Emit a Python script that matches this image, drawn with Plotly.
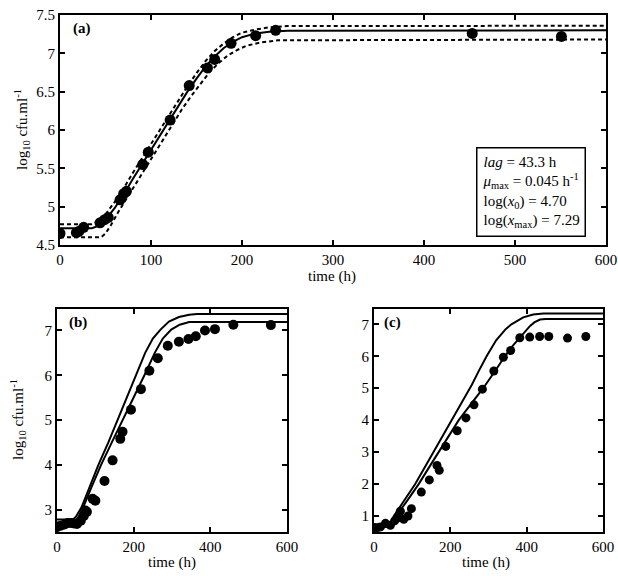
import plotly.graph_objects as go

FONT = "Liberation Serif"

# ---------------- Panel (a) ----------------
a_t = [0, 18, 21, 26, 44, 49, 53, 66, 70, 73, 91, 97, 121, 142, 162, 170, 188, 215, 237, 453, 551]
a_y = [4.65, 4.66, 4.68, 4.73, 4.79, 4.83, 4.86, 5.09, 5.17, 5.20, 5.55, 5.71, 6.13, 6.58, 6.81, 6.92, 7.13, 7.23, 7.30, 7.26, 7.22]

a_fit_t = [0, 35, 42, 50, 60, 70, 80, 90, 100, 110, 120, 130, 140, 150, 160, 170, 180, 190, 200, 215, 230, 250, 600]
a_fit_y = [4.72, 4.72, 4.75, 4.83, 4.98, 5.16, 5.36, 5.55, 5.74, 5.93, 6.12, 6.31, 6.50, 6.67, 6.83, 6.96, 7.07, 7.15, 7.21, 7.26, 7.28, 7.295, 7.30]

a_up_t = [0, 35, 42, 50, 60, 70, 80, 90, 100, 110, 120, 130, 140, 150, 160, 170, 180, 190, 200, 215, 230, 250, 600]
a_up_y = [4.77, 4.77, 4.81, 4.90, 5.06, 5.24, 5.44, 5.63, 5.82, 6.01, 6.20, 6.39, 6.57, 6.74, 6.90, 7.03, 7.13, 7.21, 7.27, 7.31, 7.34, 7.355, 7.36]

a_lo_t = [0, 45, 50, 56, 64, 74, 84, 94, 104, 114, 124, 134, 144, 154, 164, 174, 184, 194, 205, 220, 240, 600]
a_lo_y = [4.60, 4.60, 4.65, 4.76, 4.93, 5.12, 5.32, 5.51, 5.70, 5.89, 6.08, 6.27, 6.44, 6.60, 6.75, 6.87, 6.97, 7.04, 7.10, 7.14, 7.17, 7.18]

# ---------------- Panel (b) ----------------
b_t = [0, 10, 20, 28, 36, 44, 52, 62, 70, 74, 78, 93, 100, 124, 145, 165, 171, 193, 219, 241, 263, 289, 318, 343, 362, 386, 412, 460, 558]
b_y = [2.61, 2.64, 2.67, 2.70, 2.70, 2.69, 2.68, 2.75, 2.86, 2.98, 2.95, 3.24, 3.20, 3.64, 4.10, 4.58, 4.74, 5.23, 5.69, 6.10, 6.38, 6.66, 6.75, 6.81, 6.87, 7.00, 7.03, 7.13, 7.12]

b_up_t = [0, 42, 50, 58, 64, 85, 108, 134, 158, 182, 206, 230, 250, 270, 292, 318, 345, 365, 600]
b_up_y = [2.78, 2.78, 2.85, 2.95, 3.05, 3.50, 4.00, 4.50, 5.00, 5.50, 6.00, 6.50, 6.82, 7.02, 7.20, 7.30, 7.35, 7.37, 7.37]

b_lo_t = [0, 45, 55, 66, 90, 115, 143, 172, 200, 228, 255, 276, 298, 320, 345, 600]
b_lo_y = [2.71, 2.71, 2.82, 3.00, 3.50, 4.00, 4.50, 5.00, 5.50, 6.00, 6.50, 6.82, 7.02, 7.13, 7.19, 7.19]

# ---------------- Panel (c) ----------------
c_t = [0, 8, 17, 30, 43, 54, 63, 69, 78, 89, 98, 124, 145, 165, 171, 188, 218, 241, 262, 284, 314, 339, 358, 382, 408, 434, 458, 507, 555]
c_y = [0.64, 0.63, 0.66, 0.77, 0.71, 0.85, 0.94, 1.15, 0.90, 1.00, 1.23, 1.75, 2.13, 2.58, 2.43, 3.18, 3.67, 4.07, 4.48, 4.97, 5.54, 5.97, 6.18, 6.58, 6.60, 6.62, 6.62, 6.57, 6.62]

c_up_t = [0, 38, 45, 52, 80, 108, 132, 156, 180, 204, 230, 256, 275, 295, 320, 345, 360, 375, 391, 417, 444, 600]
c_up_y = [0.73, 0.73, 0.80, 1.00, 1.50, 2.00, 2.50, 3.00, 3.50, 4.00, 4.55, 5.10, 5.55, 6.00, 6.50, 6.85, 7.00, 7.12, 7.22, 7.31, 7.34, 7.34]

c_lo_t = [0, 42, 50, 58, 88, 117, 143, 170, 196, 222, 254, 286, 315, 343, 365, 390, 409, 420, 435, 450, 600]
c_lo_y = [0.66, 0.66, 0.76, 1.00, 1.50, 2.00, 2.50, 3.00, 3.50, 4.00, 4.50, 5.00, 5.50, 6.00, 6.35, 6.70, 6.95, 7.06, 7.15, 7.17, 7.17]

x_ticks = [0, 100, 200, 300, 400, 500, 600]
x_ticks_small = [0, 200, 400, 600]
a_yticks = [4.5, 5, 5.5, 6, 6.5, 7, 7.5]
a_ytext = ["4.5", "5", "5.5", "6", "6.5", "7", "7.5"]
b_yticks = [3, 4, 5, 6, 7]
c_yticks = [1, 2, 3, 4, 5, 6, 7]

W, H = 618, 576

fig = go.Figure()

def line(t, y, xa, ya, dash=None):
    fig.add_trace(go.Scatter(x=t, y=y, mode="lines", xaxis=xa, yaxis=ya,
                             line=dict(color="black", width=2, dash=dash),
                             showlegend=False, hoverinfo="skip"))

def dots(t, y, xa, ya, size):
    fig.add_trace(go.Scatter(x=t, y=y, mode="markers", xaxis=xa, yaxis=ya,
                             marker=dict(color="black", size=size, line=dict(width=0)),
                             showlegend=False))

line(a_up_t, a_up_y, "x", "y", "4px,3px")
line(a_lo_t, a_lo_y, "x", "y", "4px,3px")
line(a_fit_t, a_fit_y, "x", "y")
dots(a_t, a_y, "x", "y", 11)

line(b_up_t, b_up_y, "x2", "y2")
line(b_lo_t, b_lo_y, "x2", "y2")
dots(b_t, b_y, "x2", "y2", 10)

line(c_up_t, c_up_y, "x3", "y3")
line(c_lo_t, c_lo_y, "x3", "y3")
dots(c_t, c_y, "x3", "y3", 9)

def px(x):
    return x / W

def py(y):
    return 1 - y / H

axis_common = dict(showline=True, linecolor="black", linewidth=2, mirror="allticks",
                   ticks="inside", ticklen=5, tickwidth=1.5, tickcolor="black",
                   showgrid=False, zeroline=False, automargin=False,
                   ticklabeloverflow="allow",
                   tickfont=dict(family=FONT, size=15, color="black"))

fig.update_layout(
    width=W, height=H, margin=dict(l=0, r=0, t=0, b=0, autoexpand=False),
    paper_bgcolor="white", plot_bgcolor="white",
    font=dict(family=FONT, size=15, color="black"),
    xaxis=dict(domain=[px(60), px(606)], range=[0, 600], tickvals=x_ticks, anchor="y", **axis_common),
    yaxis=dict(domain=[py(245), py(15)], range=[4.5, 7.5], tickvals=a_yticks, ticktext=a_ytext, anchor="x", **axis_common),
    xaxis2=dict(domain=[px(57), px(287)], range=[0, 600], tickvals=x_ticks_small, anchor="y2", **axis_common),
    yaxis2=dict(domain=[py(532), py(309)], range=[2.5, 7.48], tickvals=b_yticks, anchor="x2", **axis_common),
    xaxis3=dict(domain=[px(374), px(603)], range=[0, 600], tickvals=x_ticks_small, anchor="y3", **axis_common),
    yaxis3=dict(domain=[py(532), py(309)], range=[0.5, 7.48], tickvals=c_yticks, anchor="x3", **axis_common),
)

ann = []
def text(x, y, s, size=15, angle=0, xanchor="center", yanchor="middle", align="center", **kw):
    ann.append(dict(x=px(x), y=py(y), xref="paper", yref="paper", text=s, showarrow=False,
                    font=dict(family=FONT, size=size, color="black"), textangle=angle,
                    xanchor=xanchor, yanchor=yanchor, align=align, **kw))

ylab = "log<sub>10</sub> cfu.ml<sup>-1</sup>"
text(22, 130, ylab, angle=-90)
text(18, 420, ylab, angle=-90)
text(332, 276, "time (h)")
text(172, 562, "time (h)")
text(486, 562, "time (h)")
text(82, 28, "<b>(a)</b>")
text(78, 322, "<b>(b)</b>")
text(392, 322, "<b>(c)</b>")

legend_txt = ("<i>lag</i> = 43.3 h<br>"
              "<i>μ</i><sub>max</sub> = 0.045 h<sup>-1</sup><br>"
              "log(<i>x</i><sub>0</sub>) = 4.70<br>"
              "log(<i>x</i><sub>max</sub>) = 7.29")
text(476, 147, legend_txt, size=15, xanchor="left", yanchor="top", align="left",
     bordercolor="black", borderwidth=1.5, borderpad=5, bgcolor="white")

fig.update_layout(annotations=ann)

fig.write_html("out.html", config={"displayModeBar": False},
               post_script="document.body.style.margin='0';document.body.style.overflow='hidden';")
